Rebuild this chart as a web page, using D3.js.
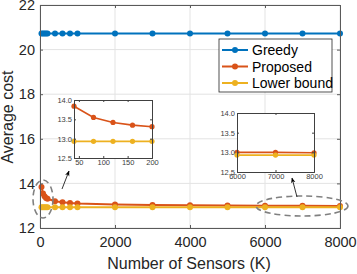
<!DOCTYPE html>
<html><head><meta charset="utf-8">
<script src="https://cdn.jsdelivr.net/npm/d3@7"></script>
<style>body{margin:0;background:#fff}svg{display:block;font-family:"Liberation Sans",Arial,sans-serif}</style>
</head><body><svg id="c" width="357" height="274"></svg>
<script>
const xs = [40, 80, 120, 160, 200, 400, 600, 800, 1000, 2000, 3000, 4000, 5000, 6000, 7000, 8000];
const greedy = [20.72,20.72,20.72,20.72,20.72,20.72,20.72,20.72,20.72,20.72,20.72,20.72,20.72,20.72,20.72,20.72];
const proposed = [13.84,13.55,13.42,13.35,13.31,13.2,13.15,13.12,13.1,13.05,13.03,13.02,13.01,13.0,13.0,12.99];
const lowerBound = [12.93,12.93,12.93,12.93,12.93,12.93,12.93,12.93,12.93,12.93,12.93,12.93,12.93,12.93,12.93,12.93];
const seriesNames = ["Greedy","Proposed","Lower bound"];
const colors = ["#0072BD","#D95319","#EDB120"];
const xTicks = [0,2000,4000,6000,8000];
const yTicks = [12,14,16,18,20,22];
const inset1XTicks = [50,100,150,200];
const inset2XTicks = [6000,7000,8000];
const insetYTicks = [12.5,13,13.5,14];

const svg = d3.select("#c");
const series = [greedy, proposed, lowerBound];
const axisCol = "#5a5a5a";

const x = d3.scaleLinear().domain([0,8000]).range([40,340]);
const y = d3.scaleLinear().domain([12,22]).range([228,5]);

// grid
const g = svg.append("g");
g.selectAll(".gx").data(xTicks).join("line").attr("x1",d=>x(d)).attr("x2",d=>x(d)).attr("y1",5).attr("y2",228).attr("stroke","#e3e3e3").attr("stroke-width",1);
g.selectAll(".gy").data(yTicks).join("line").attr("y1",d=>y(d)).attr("y2",d=>y(d)).attr("x1",40).attr("x2",340).attr("stroke","#e3e3e3").attr("stroke-width",1);

// series
function drawSeries(parent, xsc, ysc, filt, r, lw){
  series.forEach((s,i)=>{
    const pts = xs.map((v,j)=>[v,s[j]]).filter(p=>filt(p[0]));
    parent.append("path").datum(pts).attr("fill","none").attr("stroke",colors[i]).attr("stroke-width",lw)
      .attr("d", d3.line().x(p=>xsc(p[0])).y(p=>ysc(p[1])));
    parent.selectAll(null).data(pts).join("circle").attr("cx",p=>xsc(p[0])).attr("cy",p=>ysc(p[1])).attr("r",r).attr("fill",colors[i]);
  });
}
drawSeries(svg, x, y, ()=>true, 3, 2);

// axes
const xAxis = svg.append("g").attr("transform","translate(0,228)").call(d3.axisBottom(x).tickValues(xTicks).tickSize(-3).tickPadding(9).tickFormat(d3.format("d")));
const yAxis = svg.append("g").attr("transform","translate(40,0)").call(d3.axisLeft(y).tickValues(yTicks).tickSize(-3).tickPadding(5));
svg.append("g").attr("transform","translate(0,5)").call(d3.axisTop(x).tickValues(xTicks).tickSize(-3).tickFormat(""));
svg.append("g").attr("transform","translate(340,0)").call(d3.axisRight(y).tickValues(yTicks).tickSize(-3).tickFormat(""));
svg.selectAll(".domain").attr("stroke",axisCol);
svg.selectAll(".tick line").attr("stroke",axisCol);
[xAxis,yAxis].forEach(a=>a.selectAll("text").attr("font-size",14.5).attr("fill","#262626").attr("font-family","Liberation Sans, Arial, sans-serif"));

svg.append("text").attr("x",189).attr("y",269).attr("text-anchor","middle").attr("font-size",16).attr("fill","#262626").text("Number of Sensors (K)");
svg.append("text").attr("transform","translate(13,117) rotate(-90)").attr("text-anchor","middle").attr("font-size",16).attr("fill","#262626").text("Average cost");

// legend
const lg = svg.append("g");
lg.append("rect").attr("x",219).attr("y",39).attr("width",113).attr("height",53).attr("fill","#fff").attr("stroke","#262626").attr("stroke-width",0.8);
seriesNames.forEach((n,i)=>{
  const yy = 50 + i*16.5;
  lg.append("line").attr("x1",222).attr("x2",248).attr("y1",yy).attr("y2",yy).attr("stroke",colors[i]).attr("stroke-width",2);
  lg.append("circle").attr("cx",235).attr("cy",yy).attr("r",3).attr("fill",colors[i]);
  lg.append("text").attr("x",252).attr("y",yy+5).attr("font-size",14).attr("fill","#000").text(n);
});

// ellipses and arrows
svg.append("ellipse").attr("cx",43).attr("cy",199).attr("rx",10).attr("ry",19).attr("fill","none").attr("stroke","#808080").attr("stroke-width",1.6).attr("stroke-dasharray","6,4");
svg.append("ellipse").attr("cx",302).attr("cy",206).attr("rx",46).attr("ry",10).attr("fill","none").attr("stroke","#808080").attr("stroke-width",1.6).attr("stroke-dasharray","6,4");
const defs = svg.append("defs");
defs.append("marker").attr("id","ah").attr("viewBox","0 0 10 10").attr("refX",9).attr("refY",5).attr("markerWidth",7).attr("markerHeight",7).attr("orient","auto")
  .append("path").attr("d","M0,1 L10,5 L0,9 L3,5 Z").attr("fill","#000");
svg.append("line").attr("x1",62).attr("y1",189).attr("x2",69).attr("y2",171).attr("stroke","#000").attr("stroke-width",0.8).attr("marker-end","url(#ah)");
svg.append("line").attr("x1",297).attr("y1",197).attr("x2",292).attr("y2",178).attr("stroke","#000").attr("stroke-width",0.8).attr("marker-end","url(#ah)");

// insets
function inset(x0,x1,y0,y1,dom,ticks,filt){
  const ig = svg.append("g");
  ig.append("rect").attr("x",x0).attr("y",y0).attr("width",x1-x0).attr("height",y1-y0).attr("fill","#fff");
  const ix = d3.scaleLinear().domain(dom).range([x0,x1]);
  const iy = d3.scaleLinear().domain([12.5,14]).range([y1,y0]);
  drawSeries(ig, ix, iy, filt, 2.6, 1.6);
  const ax = ig.append("g").attr("transform",`translate(0,${y1})`).call(d3.axisBottom(ix).tickValues(ticks).tickSize(-2).tickPadding(2).tickFormat(d3.format("d")));
  const ay = ig.append("g").attr("transform",`translate(${x0},0)`).call(d3.axisLeft(iy).tickValues(insetYTicks).tickSize(-2).tickPadding(2));
  ig.append("g").attr("transform",`translate(0,${y0})`).call(d3.axisTop(ix).tickValues(ticks).tickSize(-2).tickFormat(""));
  ig.append("g").attr("transform",`translate(${x1},0)`).call(d3.axisRight(iy).tickValues(insetYTicks).tickSize(-2).tickFormat(""));
  ig.selectAll(".domain").attr("stroke","#404040");
  ig.selectAll(".tick line").attr("stroke","#404040");
  ig.selectAll("text").attr("font-size",7.5).attr("fill","#404040").attr("font-family","Liberation Sans, Arial, sans-serif");
}
inset(74,152,100,158,[40,200],inset1XTicks,v=>v<=200);
inset(237,314,113,172,[6000,8000],inset2XTicks,v=>v>=6000);
</script></body></html>
